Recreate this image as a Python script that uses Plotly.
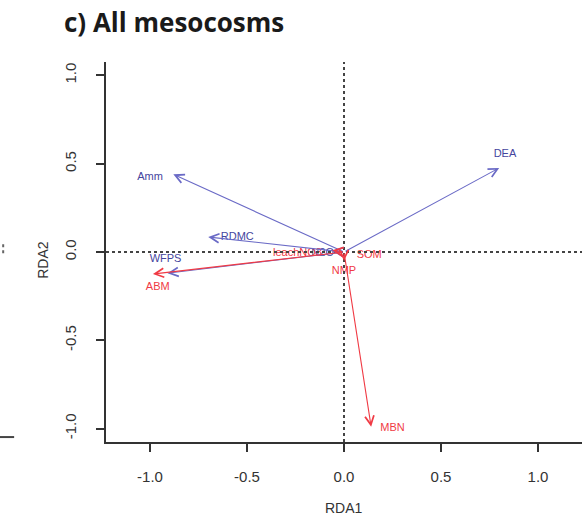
import plotly.graph_objects as go

# Explanatory variables (blue)
blue_names = ["DEA", "Amm", "RDMC", "WFPS", "N2O"]
blue_x = [0.80, -0.88, -0.70, -0.91, -0.06]
blue_y = [0.476, 0.44, 0.085, -0.12, 0.005]
blue_lab_x = [0.83, -1.00, -0.55, -0.92, -0.11]
blue_lab_y = [0.555, 0.425, 0.085, -0.04, -0.005]

# Response variables (red)
red_names = ["ABM", "MBN", "leachNO3", "SOM", "NMP"]
red_x = [-0.985, 0.14, -0.06, 0.02, 0.0]
red_y = [-0.125, -0.99, 0.01, -0.01, -0.05]
red_lab_x = [-0.96, 0.25, -0.24, 0.13, 0.0]
red_lab_y = [-0.20, -1.00, -0.005, -0.02, -0.11]

x_ticks = [-1.0, -0.5, 0.0, 0.5, 1.0]
y_ticks = [-1.0, -0.5, 0.0, 0.5, 1.0]

BLUE_LINE = "#6a6ac6"
BLUE_TXT = "#45459e"
RED = "#f03a44"

fig = go.Figure()

fig.add_trace(go.Scatter(x=blue_lab_x, y=blue_lab_y, text=blue_names, mode="text",
                         textfont=dict(family="Liberation Sans, Arial", size=11, color=BLUE_TXT),
                         hoverinfo="skip", showlegend=False))
fig.add_trace(go.Scatter(x=red_lab_x, y=red_lab_y, text=red_names, mode="text",
                         textfont=dict(family="Liberation Sans, Arial", size=11, color=RED),
                         hoverinfo="skip", showlegend=False))

annotations = []
for xs, ys, col in [(blue_x, blue_y, BLUE_LINE), (red_x, red_y, RED)]:
    for x, y in zip(xs, ys):
        annotations.append(dict(x=x, y=y, ax=0, ay=0, xref="x", yref="y", axref="x", ayref="y",
                                text="", showarrow=True, arrowhead=5, arrowsize=1.6,
                                arrowwidth=1.1, arrowcolor=col, standoff=0, startstandoff=0))

annotations += [
    dict(text="<b>c) All mesocosms</b>", x=-0.092, y=1.105, xref="paper", yref="paper",
         xanchor="left", yanchor="middle", showarrow=False,
         font=dict(family="Open Sans, Lato, Liberation Sans", size=26, color="#1a1a1a")),
    dict(text="RDA1", x=0.5, y=-0.174, xref="paper", yref="paper", showarrow=False,
         xanchor="center", yanchor="middle",
         font=dict(family="Liberation Sans, Arial", size=14, color="#333333")),
    dict(text="RDA2", x=-0.134, y=0.48, xref="paper", yref="paper", showarrow=False,
         textangle=-90, xanchor="center", yanchor="middle",
         font=dict(family="Liberation Sans, Arial", size=14, color="#333333")),
]

shapes = [
    dict(type="line", xref="x", yref="paper", x0=0, x1=0, y0=0, y1=1,
         line=dict(color="#444444", width=2, dash="dot")),
    dict(type="line", xref="paper", yref="y", x0=0, x1=1, y0=0, y1=0,
         line=dict(color="#444444", width=2, dash="dot")),
    # fragments from neighbouring panel at left edge
    dict(type="line", xref="paper", yref="paper", x0=-0.216, x1=-0.216, y0=0.497, y1=0.524,
         line=dict(color="#666666", width=2, dash="dot")),
    dict(type="line", xref="paper", yref="paper", x0=-0.223, x1=-0.193, y0=0.013, y1=0.013,
         line=dict(color="#444444", width=2)),
]

axis_common = dict(showgrid=False, zeroline=False, showline=True, linecolor="#333333",
                   linewidth=2, ticks="outside", ticklen=8, tickwidth=2, tickcolor="#333333",
                   tickfont=dict(family="Liberation Sans, Arial", size=15, color="#333333"))

fig.update_layout(
    width=583, height=523,
    margin=dict(l=106, r=1, t=62, b=81),
    paper_bgcolor="white", plot_bgcolor="white",
    xaxis=dict(range=[-1.227, 1.227], tickvals=x_ticks, ticktext=[f"{v:.1f}" for v in x_ticks],
               ticklabelstandoff=12, **axis_common),
    yaxis=dict(range=[-1.076, 1.076], tickvals=y_ticks, ticktext=[f"{v:.1f}" for v in y_ticks],
               tickangle=-90, ticklabelstandoff=14, **axis_common),
    annotations=annotations, shapes=shapes, showlegend=False,
)

fig.write_html("out.html", config={"displayModeBar": False},
               post_script="document.body.style.margin='0';document.body.style.overflow='hidden';")
